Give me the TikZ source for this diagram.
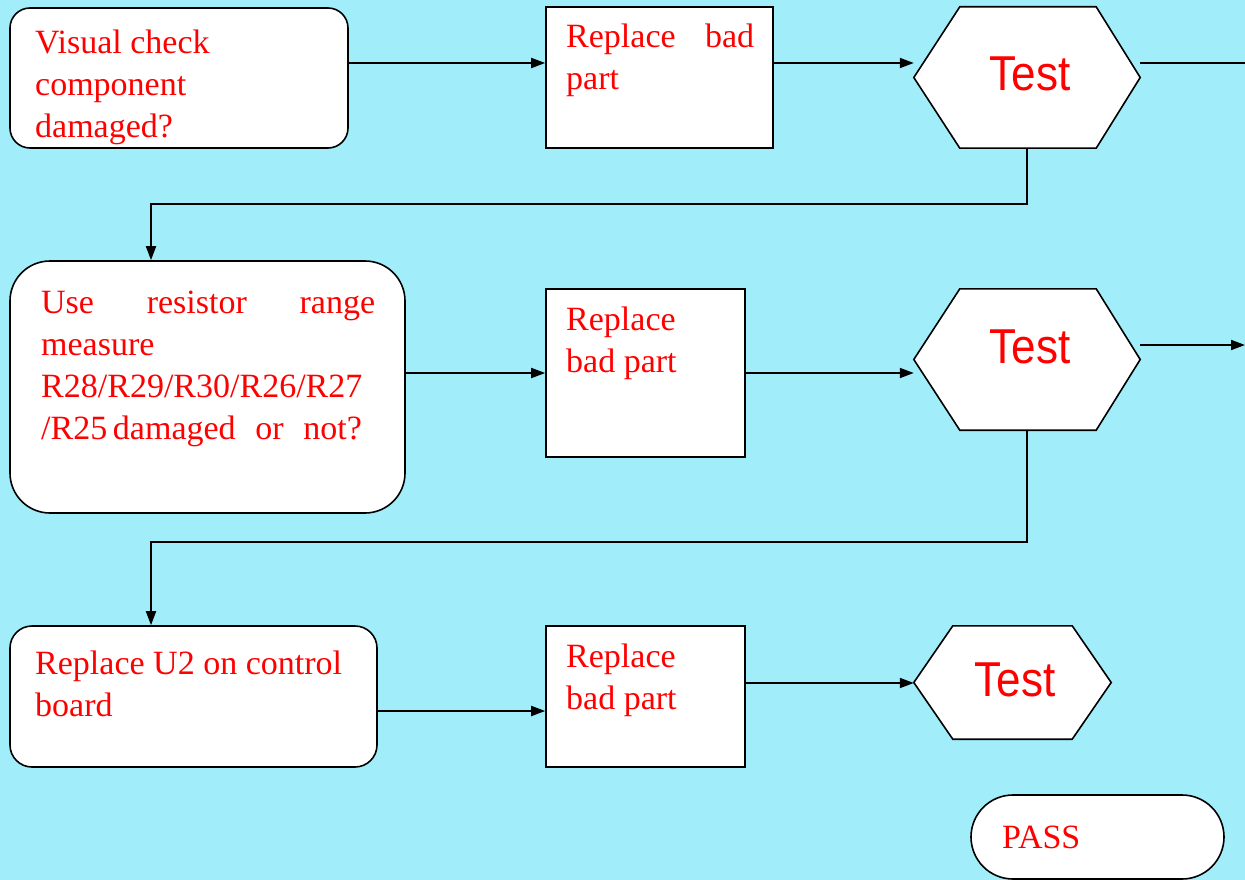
\documentclass[tikz,border=0pt]{standalone}
\usepackage{fontspec}
\setmainfont{Liberation Serif}
\newfontfamily\testfont{Liberation Sans}
\usetikzlibrary{arrows.meta,calc}
\definecolor{bgcyan}{RGB}{161,238,250}
\tikzset{
  box/.style={draw=black, fill=white, line width=1.6pt, inner sep=0pt},
  rbox/.style={box, rounded corners=#1},
  hexbox/.style={inner sep=0pt, minimum width=226pt},
  hexline/.style={draw=black, fill=white, line width=1.6pt, line join=miter},
  txt/.style={text=red, inner sep=0pt, font=\fontsize{34}{42}\selectfont, anchor=base west},
  testtxt/.style={text=red, inner sep=0pt, font=\testfont\fontsize{49}{55}\selectfont, xscale=0.9, anchor=base},
  conn/.style={line width=1.8pt, draw=black},
  arr/.style={conn, -{Triangle[length=14pt,width=10pt]}}
}
\begin{document}
\begin{tikzpicture}[x=1pt,y=-1pt]
\useasboundingbox (0,0) rectangle (1245,880);
\fill[bgcyan] (0,0) rectangle (1245,880);

% row 1
\node[rbox=20pt, minimum width=338pt, minimum height=140pt] (box1) at (179,78) {};
\node[box, minimum width=227pt, minimum height=141pt] (box2) at (659.5,77.5) {};
\node[hexbox, minimum height=141pt] (hex1) at (1027,77.5) {};
% row 2
\node[rbox=40pt, minimum width=395pt, minimum height=252pt] (box4) at (207.5,387) {};
\node[box, minimum width=199pt, minimum height=168pt] (box5) at (645.5,373) {};
\node[hexbox, minimum height=141pt] (hex2) at (1027,359.5) {};
% row 3
\node[rbox=22pt, minimum width=367pt, minimum height=141pt] (box7) at (193.5,696.5) {};
\node[box, minimum width=199pt, minimum height=141pt] (box8) at (645.5,696.5) {};
\node[hexbox, minimum width=197pt, minimum height=113pt] (hex3) at (1012.5,682.5) {};
% pass
\node[rbox=42pt, minimum width=253pt, minimum height=84pt] (pass) at (1097.5,837) {};

% hexagon outlines
\draw[hexline] (hex1.west) -- ($(hex1.north west)+(46,0)$) -- ($(hex1.north east)+(-44,0)$) -- (hex1.east)
  -- ($(hex1.south east)+(-44,0)$) -- ($(hex1.south west)+(46,0)$) -- cycle;
\draw[hexline] (hex2.west) -- ($(hex2.north west)+(46,0)$) -- ($(hex2.north east)+(-44,0)$) -- (hex2.east)
  -- ($(hex2.south east)+(-44,0)$) -- ($(hex2.south west)+(46,0)$) -- cycle;
\draw[hexline] (hex3.west) -- ($(hex3.north west)+(39,0)$) -- ($(hex3.north east)+(-39,0)$) -- (hex3.east)
  -- ($(hex3.south east)+(-39,0)$) -- ($(hex3.south west)+(39,0)$) -- cycle;

% texts
\node[txt] (t1a) at (35,54) {Visual check};
\node[txt] (t1b) at (35,96) {component};
\node[txt] (t1c) at (35,138) {damaged?};

\node[txt] (t2a) at (566,48) {\makebox[188pt][s]{Replace bad}};
\node[txt] (t2b) at (566,90) {part};

\node[testtxt] (t3) at (1030,91) {Test};

\node[txt] (t4a) at (41,313) {\makebox[334pt][s]{Use resistor range}};
\node[txt] (t4b) at (41,355) {measure};
\node[txt] (t4c) at (41,397) {R28/R29/R30/R26/R27};
\node[txt] (t4d) at (41,439) {/R25\,\makebox[249pt][s]{damaged or not?}};

\node[txt] (t5a) at (566,330) {Replace};
\node[txt] (t5b) at (566,372) {bad part};

\node[testtxt] (t6) at (1030,363) {Test};

\node[txt] (t7a) at (35,674) {Replace U2 on control};
\node[txt] (t7b) at (35,716) {board};

\node[txt] (t8a) at (566,667) {Replace};
\node[txt] (t8b) at (566,709) {bad part};

\node[testtxt] (t9) at (1015,696) {Test};

\node[txt] (t10) at (1002,848) {PASS};

% connectors
\coordinate (o1) at (1245,63);
\coordinate (o2) at (1245,345);
\coordinate (c1) at (151,204);
\coordinate (c2) at (151,542);

\draw[arr] (box1.east |- o1) -- (box2.west |- o1);
\draw[arr] (box2.east |- o1) -- (hex1.west |- o1);
\draw[conn] (hex1.east |- o1) -- (o1);
\draw[arr] (hex1.south) |- (c1) -- (c1 |- box4.north);

\draw[arr] (box4.east |- box5.west) -- (box5.west);
\draw[arr] (box5.east) -- (box5.east -| hex2.west);
\draw[arr] (hex2.east |- o2) -- (o2);
\draw[arr] (hex2.south) |- (c2) -- (c2 |- box7.north);

\coordinate (r3) at (0,711);
\coordinate (r4) at (0,683);
\draw[arr] (box7.east |- r3) -- (box8.west |- r3);
\draw[arr] (box8.east |- r4) -- (hex3.west |- r4);
\end{tikzpicture}
\end{document}
